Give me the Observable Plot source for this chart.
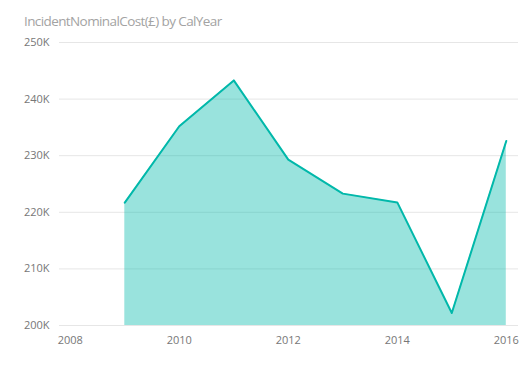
<!DOCTYPE html>
<html>
<head>
<meta charset="utf-8">
<script src="https://cdn.jsdelivr.net/npm/d3@7"></script>
<script src="https://cdn.jsdelivr.net/npm/@observablehq/plot@0.6"></script>
<style>
  html, body { margin: 0; padding: 0; background: #fff; }
  #wrap { width: 532px; height: 381px; position: relative; overflow: hidden; }
  #title { position: absolute; left: 24px; top: 12px; font-family: "Open Sans", sans-serif; font-size: 13.5px; letter-spacing: -0.6px; color: #a3a3a3; white-space: nowrap; }
  #chart { position: absolute; left: 0; top: 30px; }
</style>
</head>
<body>
<div id="wrap">
  <div id="title">IncidentNominalCost(£) by CalYear</div>
  <div id="chart"></div>
</div>
<script>
const years = [2009, 2010, 2011, 2012, 2013, 2014, 2015, 2016];
const costs = [221700, 235200, 243300, 229300, 223300, 221750, 202200, 232600];
const xTicks = [2008, 2010, 2012, 2014, 2016];
const yTicks = [200000, 210000, 220000, 230000, 240000, 250000];
const data = years.map((y, i) => ({year: y, cost: costs[i]}));

const chart = Plot.plot({
  width: 532,
  height: 351,
  marginLeft: 59,
  marginRight: 14,
  marginTop: 12,
  marginBottom: 56,
  style: {fontFamily: "'Open Sans', sans-serif", fontSize: "11px", color: "#777"},
  x: {domain: [2007.802, 2016.224], label: null},
  y: {domain: [200000, 250000], label: null},
  marks: [
    Plot.gridY(yTicks, {stroke: "#e6e6e6", strokeOpacity: 1, strokeWidth: 1}),
    Plot.areaY(data, {x: "year", y1: 200000, y2: "cost", fill: "#01B8AA", fillOpacity: 0.4}),
    Plot.lineY(data, {x: "year", y: "cost", stroke: "#01B8AA", strokeWidth: 2}),
    Plot.axisX({ticks: xTicks, tickSize: 0, tickPadding: 11, tickFormat: d => String(d), fill: "#777"}),
    Plot.axisY({ticks: yTicks, tickSize: 0, tickPadding: 10, tickFormat: d => (d / 1000) + "K", fill: "#777"})
  ]
});
document.getElementById("chart").appendChild(chart);
</script>
</body>
</html>
